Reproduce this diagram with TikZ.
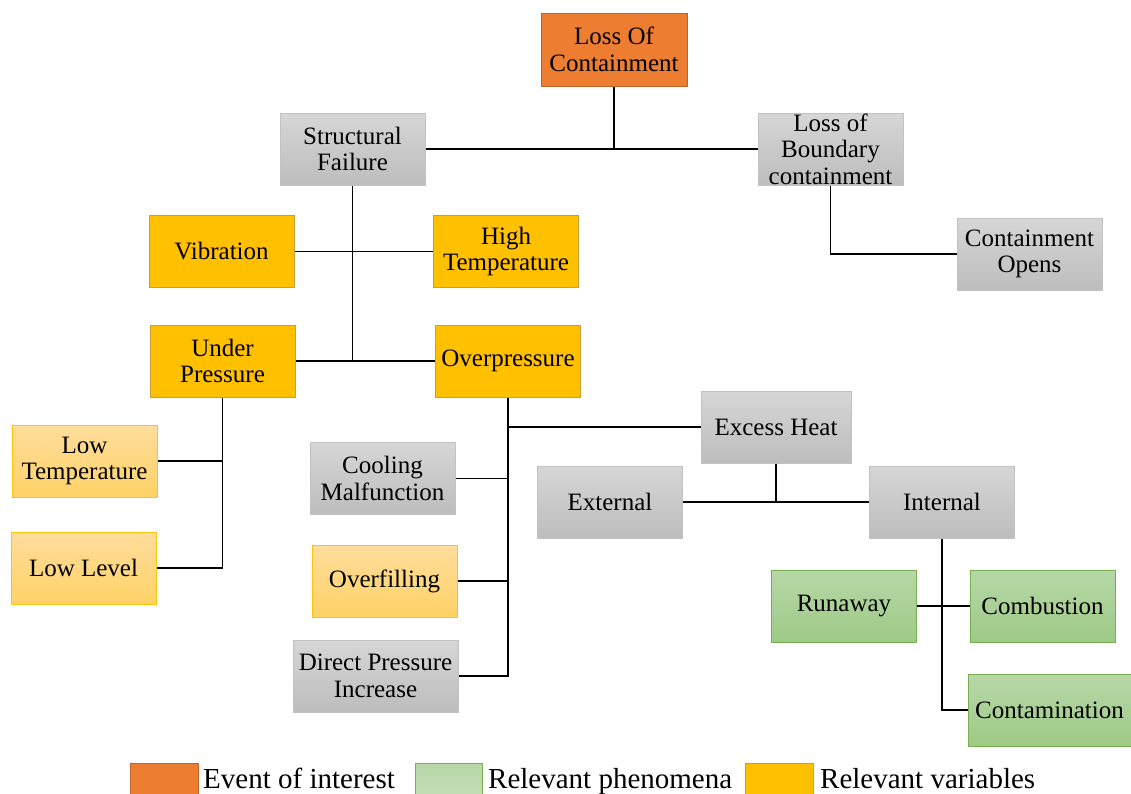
\documentclass[tikz,border=0pt]{standalone}
\usepackage{fontspec}
\setmainfont{Liberation Serif}
\newfontfamily\tnr{Liberation Serif}
\begin{document}
\begin{tikzpicture}[x=1pt,y=-1pt,
  every node/.style={font=\tnr\fontsize{25}{26.5}\selectfont, align=center, inner sep=0pt, text=black},
  base/.style={rectangle, minimum width=145pt, minimum height=72pt, line width=1pt},
  evt/.style={base, fill=orgfill, draw=orgline},
  grey/.style={base, top color=greytop, bottom color=greybot, draw=greyline},
  gold/.style={base, fill=goldfill, draw=goldline},
  lgold/.style={base, top color=lgoldtop, bottom color=lgoldbot, draw=lgoldline},
  grn/.style={base, top color=grntop, bottom color=grnbot, draw=grnline},
  conn/.style={line width=1.8pt, black},
  legtext/.style={font=\tnr\fontsize{29}{30}\selectfont, anchor=base west}
]
\definecolor{orgfill}{HTML}{ED7D31}
\definecolor{orgline}{HTML}{C0622A}
\definecolor{greytop}{HTML}{D6D6D6}
\definecolor{greybot}{HTML}{BDBDBD}
\definecolor{greyline}{HTML}{C2C2C2}
\definecolor{goldfill}{HTML}{FFC000}
\definecolor{goldline}{HTML}{C9A038}
\definecolor{lgoldtop}{HTML}{FFDD9C}
\definecolor{lgoldbot}{HTML}{FFD266}
\definecolor{lgoldline}{HTML}{FFC20E}
\definecolor{grntop}{HTML}{B7D7A8}
\definecolor{grnbot}{HTML}{9DCA85}
\definecolor{grnline}{HTML}{78B050}

\useasboundingbox (0,0) rectangle (1131,793);
\clip (0,0) rectangle (1131,793);

% nodes
\node[evt, minimum width=146pt, minimum height=73pt] (loc) at (614,49.5) {Loss Of\\Containment};
\node[grey] (sf) at (352.5,149) {Structural\\Failure};
\node[grey] (lob) at (830.5,149) {Loss of\\Boundary\\containment};
\node[grey] (co) at (1029.5,254) {Containment\\Opens};
\node[gold] (vib) at (221.5,251.5) {Vibration};
\node[gold] (ht) at (506,251.5) {High\\Temperature};
\node[gold] (up) at (222.5,361) {Under\\Pressure};
\node[gold] (op) at (508,361) {Overpressure};
\node[lgold] (lt) at (84.5,461) {Low\\Temperature};
\node[lgold] (ll) at (83.5,568) {Low Level};
\node[grey] (cm) at (382.5,478.5) {Cooling\\Malfunction};
\node[lgold] (of) at (384.5,581) {Overfilling};
\node[grey, minimum width=165pt] (dpi) at (375.5,676) {Direct Pressure\\Increase};
\node[grey, minimum width=150pt] (eh) at (776,427) {Excess Heat};
\node[grey] (ext) at (610,502) {External};
\node[grey] (int) at (942,502) {Internal};
\node[grn] (run) at (844,606) {Runaway};
\node[grn] (comb) at (1042.5,606) {Combustion};
\node[grn, minimum width=163pt] (cont) at (1049.5,710) {Contamination};

% connectors
\draw[conn] (loc.south) -- (loc.south |- sf.east);
\draw[conn] (sf.east) -- (lob.west);
\draw[conn] (lob.south) |- (co.west);
\draw[conn] (sf.south) -- (sf.south |- up.east);
\draw[conn] (vib.east) -- (ht.west);
\draw[conn] (up.east) -- (op.west);
\draw[conn] (up.south) |- (ll.east);
\draw[conn] (lt.east) -- (lt.east -| up.south);
\draw[conn] (op.south) |- (dpi.east);
\draw[conn] (eh.west) -- (eh.west -| op.south);
\draw[conn] (cm.east) -- (cm.east -| op.south);
\draw[conn] (of.east) -- (of.east -| op.south);
\draw[conn] (eh.south) -- (eh.south |- ext.east);
\draw[conn] (ext.east) -- (int.west);
\draw[conn] (int.south) |- (cont.west);
\draw[conn] (run.east) -- (comb.west);

% legend
\node[rectangle, fill=orgfill, draw=orgline, line width=1pt, minimum width=68pt, minimum height=40pt] (lg1) at (164,783) {};
\node[legtext] (lt1) at (203,788) {Event of interest};
\node[rectangle, top color=grntop, bottom color=grnbot!60!white, draw=grnline, line width=1pt, minimum width=67pt, minimum height=40pt] (lg2) at (448.5,783) {};
\node[legtext] (lt2) at (488,788) {Relevant phenomena};
\node[rectangle, fill=goldfill, draw=goldline, line width=1pt, minimum width=68pt, minimum height=40pt] (lg3) at (779,783) {};
\node[legtext] (lt3) at (820,788) {Relevant variables};
\end{tikzpicture}
\end{document}
